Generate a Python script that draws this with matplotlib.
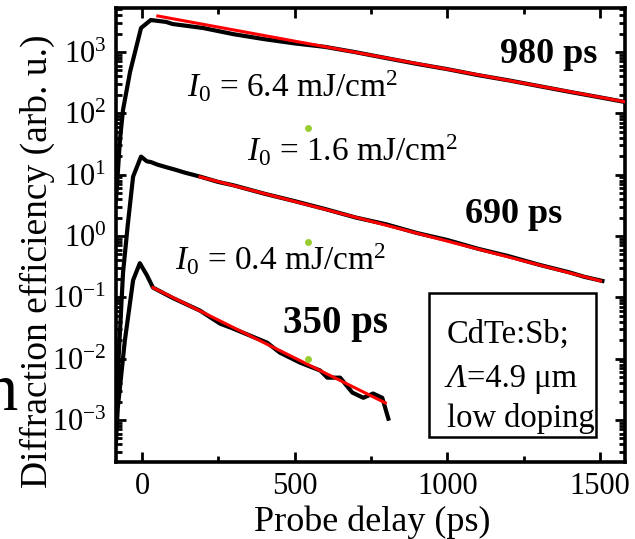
import numpy as np
import matplotlib
matplotlib.use("Agg")
import matplotlib.pyplot as plt
from matplotlib.patches import Rectangle
from matplotlib.ticker import LogLocator, MultipleLocator, NullFormatter

plt.rcParams['font.family'] = ['Liberation Serif', 'DejaVu Serif']
plt.rcParams['mathtext.fontset'] = 'custom'
plt.rcParams['mathtext.rm'] = 'Liberation Serif'
plt.rcParams['mathtext.it'] = 'Liberation Serif:italic'
plt.rcParams['mathtext.bf'] = 'Liberation Serif:bold'
plt.rcParams['axes.unicode_minus'] = False

# measured curves (probe delay in ps, diffraction efficiency in arb. u.)
t_high = [-85, -72, -62, -39, -3, 29, 79, 100, 200, 300, 400, 500, 600, 700, 800,
          900, 1000, 1100, 1200, 1300, 1400, 1500, 1585]
eta_high = [3.8, 37, 114, 472, 2460, 3320, 3090, 2860, 2460, 1950, 1620, 1380, 1210,
            990, 795, 640, 525, 420, 345, 278, 224, 182, 152]

t_mid = [-85, -79, -62, -46, -29, -3, 16, 30, 50, 80, 110, 140, 190, 250, 300, 400,
         500, 600, 700, 800, 900, 1000, 1100, 1200, 1300, 1400, 1450, 1508]
eta_mid = [0.002, 0.0059, 0.25, 1.6, 9.3, 19.7, 16.5, 16.0, 14.6, 13.2, 12.0, 10.8,
           9.3, 7.6, 6.7, 4.9, 3.7, 2.75, 2.0, 1.55, 1.12, 0.86, 0.62, 0.47, 0.34,
           0.255, 0.215, 0.185]

t_low = [-85, -79, -56, -29, -7, 16, 36, 100, 190, 256, 298, 410, 452, 518, 584,
         607, 649, 689, 725, 757, 787, 807]
eta_low = [0.00045, 0.0016, 0.0197, 0.19, 0.36, 0.23, 0.144, 0.098, 0.0607, 0.0372,
           0.031, 0.0182, 0.0125, 0.0086, 0.0064, 0.0049, 0.0049, 0.0028, 0.0023,
           0.0027, 0.0023, 0.00105]

# exponential fits (straight on log axis): start and end points
fit_high_t = [52, 1585]
fit_high_eta = [3860, 153]
fit_mid_t = [190, 1502]
fit_mid_eta = [9.2, 0.185]
fit_low_t = [36, 797]
fit_low_eta = [0.144, 0.0019]

# single markers
dot_t = [544, 544, 544]
dot_eta = [57.7, 0.80, 0.010]

fluence_labels = [r'$I_0$ = 6.4 mJ/cm$^2$', r'$I_0$ = 1.6 mJ/cm$^2$', r'$I_0$ = 0.4 mJ/cm$^2$']
fluence_pos = [(147, 184), (344, 16.3), (108, 0.279)]
tau_labels = ['980 ps', '690 ps', '350 ps']
tau_pos = [(1173, 661), (1058, 1.63), (462, 0.0266)]
tau_sizes = [26, 26, 28]

fig = plt.figure(figsize=(6.35, 5.39), dpi=100)
ax = fig.add_axes([116 / 635, 1 - 462 / 539, 509 / 635, 454 / 539])

for t, e in [(t_high, eta_high), (t_mid, eta_mid), (t_low, eta_low)]:
    ax.plot(t, e, color='black', lw=3.0, solid_joinstyle='round', zorder=2)
for t, e in [(fit_high_t, fit_high_eta), (fit_mid_t, fit_mid_eta), (fit_low_t, fit_low_eta)]:
    ax.plot(t, e, color='red', lw=2.2, zorder=3)
ax.plot(dot_t, dot_eta, 'o', color='#9acd32', ms=5, mec='none', zorder=4)

ax.set_yscale('log')
ax.set_xlim(-85, 1582)
ax.set_ylim(10 ** -3.685, 10 ** 3.717)
ax.xaxis.set_major_locator(MultipleLocator(500))
ax.xaxis.set_minor_locator(MultipleLocator(250))
ax.yaxis.set_major_locator(LogLocator(base=10, numticks=20))
ax.yaxis.set_minor_locator(LogLocator(base=10, subs=np.arange(2, 10), numticks=20))
ax.yaxis.set_minor_formatter(NullFormatter())

for s in ax.spines.values():
    s.set_linewidth(2.6)
ax.tick_params(which='both', direction='in', top=True, right=True, width=2.0)
ax.tick_params(which='major', length=7, labelsize=22, pad=7)
ax.tick_params(which='minor', length=4)

for s, (x, y) in zip(fluence_labels, fluence_pos):
    ax.text(x, y, s, fontsize=24, ha='left', va='baseline')
for s, (x, y), fs in zip(tau_labels, tau_pos, tau_sizes):
    ax.text(x, y, s, fontsize=fs, fontweight='bold', ha='left', va='baseline')

ax.add_patch(Rectangle((0.615, 0.055), 0.328, 0.317, transform=ax.transAxes,
                       fill=False, lw=1.8, ec='black', zorder=5))
ax.text(0.650, 0.262, 'CdTe:Sb;', transform=ax.transAxes, fontsize=23.5, va='baseline')
lam = ax.text(0.650, 0.165, 'Λ', transform=ax.transAxes, fontsize=23.5, style='italic',
              va='baseline')
ax.annotate('=4.9 μm', xy=(1, 0), xycoords=lam, fontsize=23.5, ha='left', va='bottom')
ax.text(0.650, 0.077, 'low doping', transform=ax.transAxes, fontsize=23.5, va='baseline')

fig.text(37 / 635, 1 - 261 / 539, 'Diffraction efficiency (arb. u.)', rotation=90,
         fontsize=27, ha='center', va='center')
fig.text(372 / 635, 1 - 531 / 539, 'Probe delay (ps)', fontsize=26, ha='center', va='baseline')
fig.text(-16 / 635, 1 - 410 / 539, 'n', fontsize=48, ha='left', va='baseline')

fig.savefig('out.png', dpi=100)
